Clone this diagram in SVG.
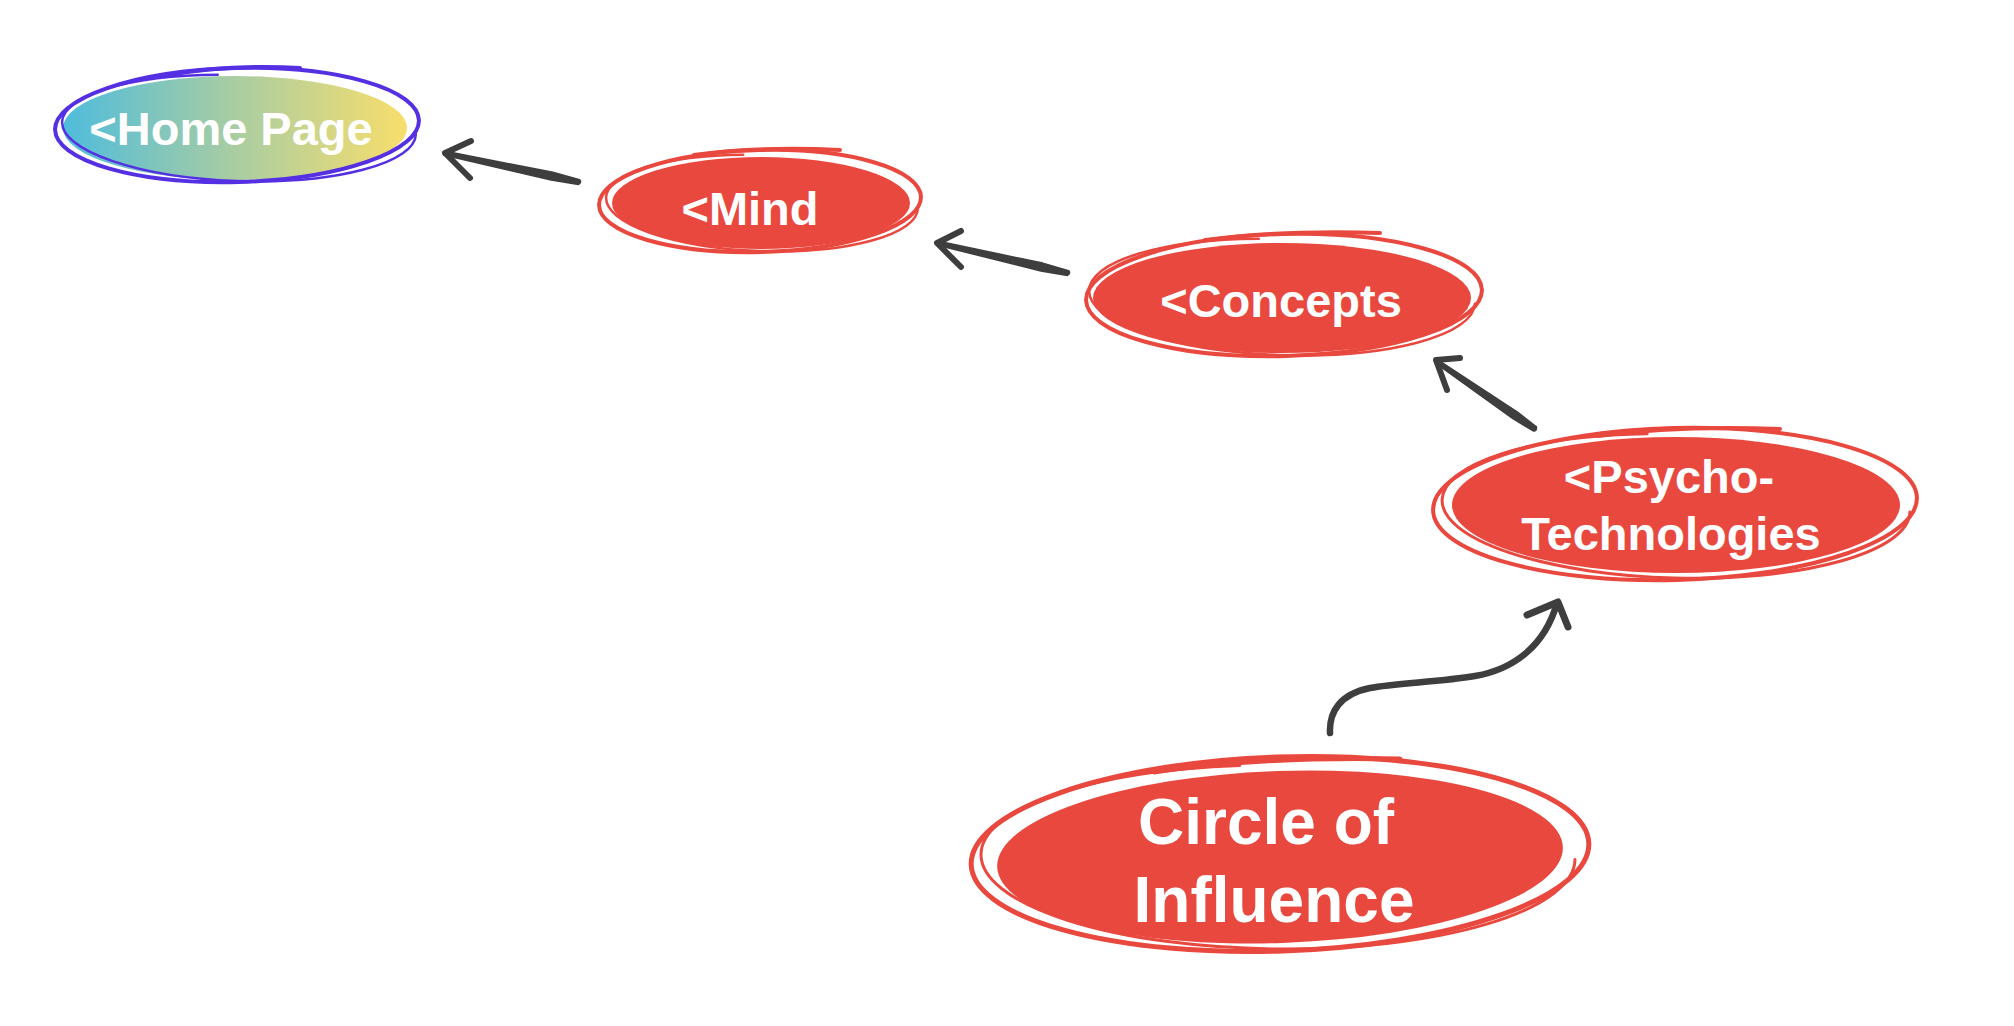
<svg xmlns="http://www.w3.org/2000/svg" width="2014" height="1026" viewBox="0 0 2014 1026">
  <defs>
    <linearGradient id="homeGrad" x1="0" y1="0" x2="1" y2="0">
      <stop offset="0" stop-color="#4fbcdc"/>
      <stop offset="0.5" stop-color="#a9cda2"/>
      <stop offset="1" stop-color="#f8de6c"/>
    </linearGradient>
  </defs>
  <style>
    .fill-red { fill: #e9483f; }
    .ring-red { fill: none; stroke: #e9483f; stroke-linecap: round; }
    .ring-blue { fill: none; stroke: #5530e3; stroke-linecap: round; }
    .part { stroke-dasharray: 72 28; }
    .label { fill: #ffffff; font-family: "Liberation Sans", Arial, sans-serif; font-weight: bold; text-anchor: middle; }
    .conn { fill: none; stroke: #3e3e3e; stroke-linecap: round; stroke-linejoin: round; }
    .shaft { fill: #3e3e3e; stroke: #3e3e3e; stroke-width: 1.5; stroke-linejoin: round; }
  </style>
  <rect x="0" y="0" width="2014" height="1026" fill="#ffffff"/>

  <g id="connectors">
    <path class="shaft" d="M444.4,151.0 L552.8,172.3 L579.5,179.6 Q582,182 578.5,184.4 L551.2,180.1 L443.6,155.0 Z"/>
    <path class="conn" stroke-width="6" d="M471,141 L445,153 L470,178"/>

    <path class="shaft" d="M937.5,241.1 L1042.7,263.1 L1068.6,270.6 Q1071,273 1067.4,275.4 L1040.9,270.9 L936.6,245.0 Z"/>
    <path class="conn" stroke-width="6" d="M961,231 L937,243 L961,267"/>

    <path class="shaft" d="M1437.1,359.4 L1517.5,412.1 L1536.4,426.9 Q1537,431 1533.6,431.1 L1512.9,418.7 L1434.9,362.7 Z"/>
    <path class="conn" stroke-width="6" d="M1460,358 L1436,360 L1447,390"/>

    <path class="conn" stroke-width="6.5" d="M1330,733 C1329,712 1340,694 1370,688 C1395,683 1440,682 1475,676 C1515,669 1545,645 1557,603"/>
    <path class="conn" stroke-width="7" d="M1527,615 L1558,602 L1568,627"/>
  </g>

  <g id="node-home">
    <ellipse cx="235" cy="128" rx="172" ry="52" fill="url(#homeGrad)"/>
    <ellipse class="ring-blue" stroke-width="4" cx="237" cy="125" rx="182" ry="57" transform="rotate(-1.5 237 125)"/>
    <ellipse class="ring-blue part" pathLength="100" stroke-width="2.5" cx="239" cy="128" rx="177" ry="53" transform="rotate(2 239 128)"/>
    <path class="ring-blue" stroke-width="4" d="M162,76 Q230,64 300,68"/>
    <text class="label" x="231" y="145" font-size="47">&lt;Home Page</text>
  </g>

  <g id="node-mind">
    <ellipse class="fill-red" cx="761" cy="203" rx="149" ry="46"/>
    <ellipse class="ring-red" stroke-width="4" cx="760" cy="201" rx="161" ry="51" transform="rotate(-1.5 760 201)"/>
    <ellipse class="ring-red part" pathLength="100" stroke-width="2.5" cx="762" cy="203" rx="156" ry="48" transform="rotate(2 762 203)"/>
    <path class="ring-red" stroke-width="4" d="M694,155 Q760,146 840,150"/>
    <text class="label" x="750" y="225" font-size="47">&lt;Mind</text>
  </g>

  <g id="node-concepts">
    <ellipse class="fill-red" cx="1282" cy="298" rx="189" ry="55"/>
    <ellipse class="ring-red" stroke-width="4" cx="1284" cy="295" rx="198" ry="61" transform="rotate(-1.5 1284 295)"/>
    <ellipse class="ring-red part" pathLength="100" stroke-width="2.5" cx="1282" cy="297" rx="193" ry="58" transform="rotate(2 1282 297)"/>
    <path class="ring-red" stroke-width="4" d="M1205,240 Q1280,230 1380,233"/>
    <text class="label" x="1281" y="317" font-size="47">&lt;Concepts</text>
  </g>

  <g id="node-psycho">
    <ellipse class="fill-red" cx="1676" cy="505" rx="224" ry="68"/>
    <ellipse class="ring-red" stroke-width="4" cx="1675" cy="504" rx="242" ry="76" transform="rotate(-1.5 1675 504)"/>
    <ellipse class="ring-red part" pathLength="100" stroke-width="3" cx="1676" cy="506" rx="234" ry="72" transform="rotate(1.5 1676 506)"/>
    <path class="ring-red" stroke-width="4" d="M1597,436 Q1680,425 1780,429"/>
    <text class="label" x="1669" y="493" font-size="47">&lt;Psycho-</text>
    <text class="label" x="1671" y="550" font-size="47">Technologies</text>
  </g>

  <g id="node-circle">
    <ellipse class="fill-red" cx="1280" cy="857" rx="283" ry="86" transform="rotate(-2 1280 857)"/>
    <ellipse class="ring-red" stroke-width="5" cx="1280" cy="854" rx="309" ry="97" transform="rotate(-2 1280 854)"/>
    <ellipse class="ring-red part" pathLength="100" stroke-width="3" cx="1278" cy="857" rx="297" ry="92" transform="rotate(0.5 1278 857)"/>
    <path class="ring-red" stroke-width="5" d="M1154,772 Q1260,756 1400,759"/>
    <text class="label" x="1266" y="844" font-size="64">Circle of</text>
    <text class="label" x="1274" y="922" font-size="64">Influence</text>
  </g>
</svg>
